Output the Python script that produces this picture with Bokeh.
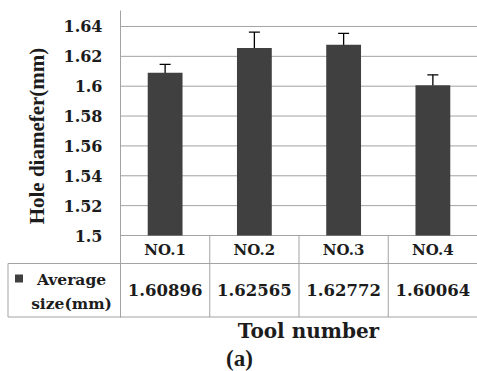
import math
from bokeh.plotting import figure
from bokeh.models import Range1d, LinearAxis, FixedTicker, ColumnDataSource, Whisker, TeeHead
from bokeh.embed import file_html
from bokeh.resources import INLINE
from bokeh.core.properties import value

# ---------------- data ----------------
categories = ["NO.1", "NO.2", "NO.3", "NO.4"]
avg_size = [1.60896, 1.62565, 1.62772, 1.60064]
err = [0.0057, 0.0106, 0.0077, 0.0070]
y_ticks = [1.5, 1.52, 1.54, 1.56, 1.58, 1.6, 1.62, 1.64]
y_tick_labels = ["1.5", "1.52", "1.54", "1.56", "1.58", "1.6", "1.62", "1.64"]
series_name = "Average\nsize(mm)"
x_title = "Tool number"
y_title = "Hole diamefer(mm)"
caption = "(a)"

# ---------------- layout / style ----------------
W, H = 477, 371          # figure size
PAGE = 0                 # page offset of the canvas
AXIS_X = 120             # page x of value axis
CAT_W = 89.25            # px per category
BASE_Y = 235             # page y of value 1.5
PX_PER_UNIT = 1493.0     # px per 1.0 of value
BAR_C = "#404040"
GRID_C = "#a3a3a3"
TXT_C = "#1c1c1c"
SERIF = "DejaVu Serif"
TIMES = "Liberation Serif"


def px(page_x):
    return (page_x - AXIS_X) / CAT_W


def py(page_y):
    return y_ticks[0] - (page_y - BASE_Y) / PX_PER_UNIT


p = figure(width=W, height=H,
           x_range=Range1d(px(PAGE), px(PAGE + W)),
           y_range=Range1d(py(PAGE + H), py(PAGE)),
           output_backend="svg", toolbar_location=None,
           x_axis_location=None, y_axis_location=None,
           min_border=0)
p.outline_line_color = None
p.grid.visible = False
p.background_fill_color = "white"

n = len(categories)
xs = [i + 0.5 for i in range(n)]

# horizontal grid lines (value axis grid)
p.segment(x0=[0] * len(y_ticks), y0=y_ticks, x1=[n] * len(y_ticks), y1=y_ticks,
          line_color=GRID_C, line_width=1)

# value axis drawn at x = 0
ax = LinearAxis(fixed_location=0, ticker=FixedTicker(ticks=y_ticks),
                bounds=(py(317), py(10)))
ax.major_label_overrides = dict(zip(y_ticks, y_tick_labels))
ax.axis_line_color = GRID_C
ax.major_tick_line_color = None
ax.minor_tick_line_color = None
ax.major_tick_out = 0
ax.major_tick_in = 0
ax.major_label_standoff = 18
ax.major_label_text_font = SERIF
ax.major_label_text_font_style = "bold"
ax.major_label_text_font_size = "16px"
ax.major_label_text_color = TXT_C
p.add_layout(ax, "left")

src = ColumnDataSource(dict(
    x=xs,
    val=avg_size,
    upper=[v + e for v, e in zip(avg_size, err)],
    lower=[v - e for v, e in zip(avg_size, err)],
))

p.vbar(x="x", top="val", bottom=y_ticks[0], width=0.39, source=src,
       fill_color=BAR_C, line_color=None)

wh = Whisker(source=src, base="x", upper="upper", lower="lower",
             line_color="black", line_width=1.3,
             upper_head=TeeHead(size=11, line_color="black", line_width=1.3),
             lower_head=TeeHead(size=11, line_color="black", line_width=1.3))
p.add_layout(wh)

# y axis title
p.text(x=[px(36)], y=[py(135.5)], text=[y_title], angle=math.pi / 2,
       text_align="center", text_baseline="middle",
       text_font=value(TIMES), text_font_style="bold",
       text_font_size=value("21px"), text_color=TXT_C)

# ---------------- data table ----------------
ROW1 = py(263)
ROW2 = py(316.5)
x_left = px(7.5)
seg_x0 = [x_left, x_left, x_left] + [float(i) for i in range(n)]
seg_y0 = [ROW1, ROW2, ROW1] + [y_ticks[0]] * n
seg_x1 = [n, n, x_left] + [float(i) for i in range(n)]
seg_y1 = [ROW1, ROW2, ROW2] + [ROW2] * n
p.segment(x0=seg_x0, y0=seg_y0, x1=seg_x1, y1=seg_y1,
          line_color=GRID_C, line_width=1)

p.text(x=xs, y=[(y_ticks[0] + ROW1) / 2] * n, text=categories,
       text_align="center", text_baseline="middle",
       text_font=value(SERIF), text_font_style="bold",
       text_font_size=value("15px"), text_color=TXT_C)
p.text(x=xs, y=[(ROW1 + ROW2) / 2] * n,
       text=[f"{v:.5f}" for v in avg_size],
       text_align="center", text_baseline="middle",
       text_font=value(SERIF), text_font_style="bold",
       text_font_size=value("16.5px"), text_color=TXT_C)

# legend key + series name
p.scatter(x=[px(18.5)], y=[py(278)], marker="square", size=8,
          fill_color=BAR_C, line_color=None)
p.text(x=[px(71)], y=[py(291)], text=[series_name],
       text_align="center", text_baseline="middle", text_line_height=1.3,
       text_font=value(SERIF), text_font_style="bold",
       text_font_size=value("15.5px"), text_color=TXT_C)

# axis title and caption
p.text(x=[px(308)], y=[py(330)], text=[x_title],
       text_align="center", text_baseline="middle",
       text_font=value(SERIF), text_font_style="bold",
       text_font_size=value("20px"), text_color=TXT_C)
p.text(x=[px(239)], y=[py(358)], text=[caption],
       text_align="center", text_baseline="middle",
       text_font=value(TIMES), text_font_style="bold",
       text_font_size=value("23px"), text_color=TXT_C)

open("out.html", "w").write(file_html(p, INLINE))
